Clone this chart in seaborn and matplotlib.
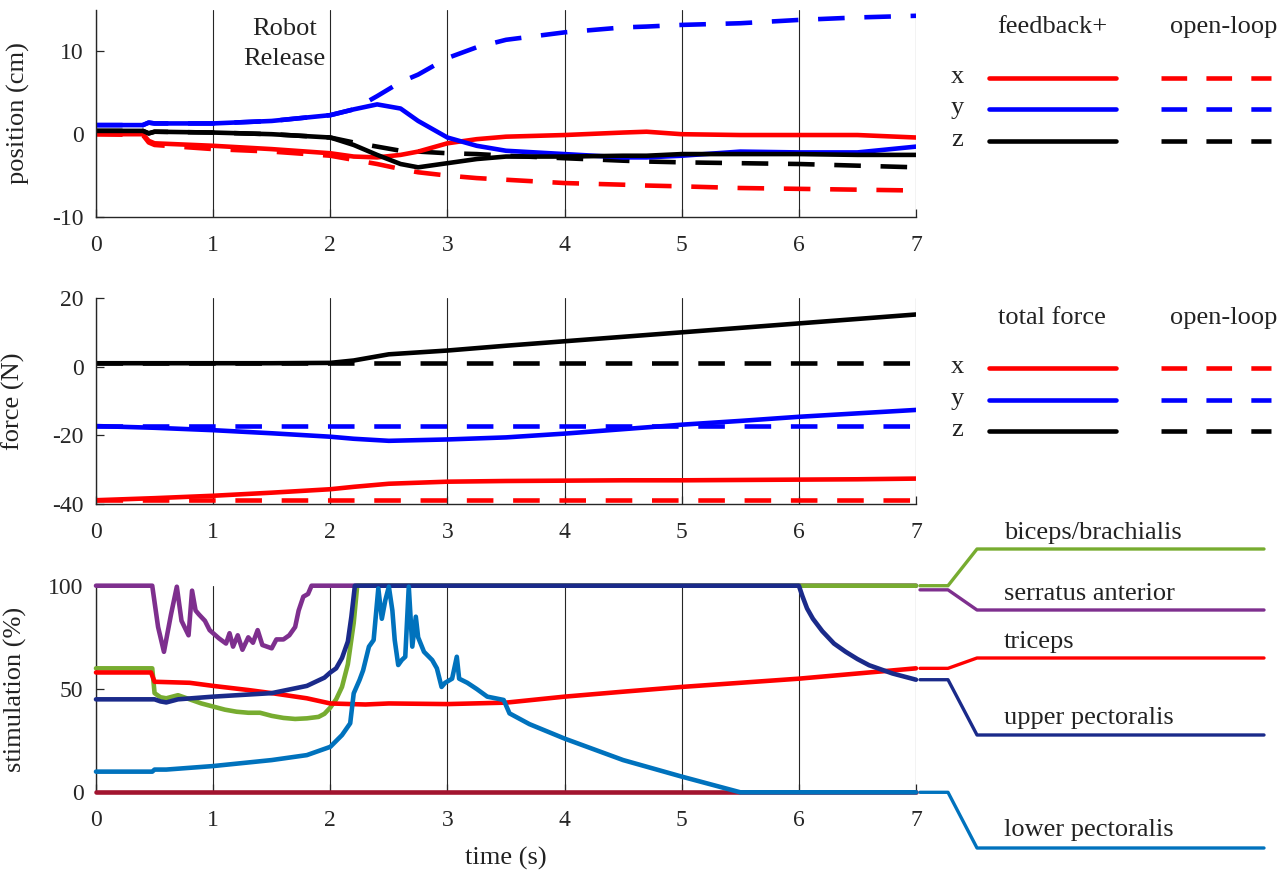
import numpy as np
import pandas as pd
import matplotlib
matplotlib.use('Agg')
import matplotlib.pyplot as plt
import seaborn as sns
from matplotlib.lines import Line2D

sns.set_style('ticks')
plt.rcParams['font.family'] = ['Liberation Serif', 'DejaVu Serif']
plt.rcParams['axes.unicode_minus'] = False
plt.rcParams['text.color'] = '#222222'
plt.rcParams['axes.labelcolor'] = '#222222'
plt.rcParams['xtick.color'] = '#262626'
plt.rcParams['ytick.color'] = '#262626'

RED = '#ff0000'
BLUE = '#0000ff'
BLACK = '#000000'
GREEN = '#77ac30'
PURPLE = '#7e2f8e'
NAVY = '#1a2a8a'
LBLUE = '#0072bd'
MAROON = '#a2142f'

# ---- position panel (cm) ----
t_pos = [0, 0.4, 0.45, 0.5, 1, 1.5, 2, 2.2, 2.4, 2.6, 2.75, 3, 3.25, 3.5,
         4, 4.5, 4.7, 5, 5.5, 6, 6.5, 7]
pos_x_fb = [0, 0, -0.8, -1.1, -1.4, -1.8, -2.3, -2.7, -2.8, -2.5, -2.1, -1.1,
            -0.6, -0.3, -0.1, 0.2, 0.3, 0.0, -0.1, -0.1, -0.1, -0.4]
pos_x_ol = [0, -0.1, -1.0, -1.3, -1.8, -2.1, -2.6, -3.1, -3.6, -4.2, -4.6,
            -5.0, -5.3, -5.5, -5.9, -6.1, -6.2, -6.3, -6.5, -6.6, -6.7, -6.8]
pos_y_fb = [1.1, 1.1, 1.4, 1.3, 1.3, 1.6, 2.3, 3.0, 3.6, 3.1, 1.6, -0.4,
            -1.4, -2.0, -2.4, -2.8, -2.8, -2.6, -2.1, -2.2, -2.2, -1.5]
pos_y_ol = [1.1, 1.1, 1.4, 1.3, 1.3, 1.6, 2.3, 3.0, 4.6, 6.3, 7.2, 9.2,
            10.5, 11.4, 12.3, 12.9, 13.0, 13.2, 13.4, 13.8, 14.1, 14.3]
pos_z_fb = [0.4, 0.4, 0.1, 0.3, 0.2, 0.0, -0.4, -1.3, -2.5, -3.6, -4.0, -3.5,
            -3.0, -2.7, -2.7, -2.6, -2.6, -2.4, -2.4, -2.4, -2.5, -2.5]
pos_z_ol = [0.4, 0.4, 0.1, 0.3, 0.2, 0.0, -0.4, -1.0, -1.5, -2.0, -2.1, -2.3,
            -2.4, -2.6, -2.9, -3.2, -3.3, -3.4, -3.5, -3.6, -3.8, -4.0]

# ---- force panel (N) ----
t_force = [0, 0.5, 1, 1.5, 2, 2.2, 2.5, 3, 3.5, 4, 4.5, 5, 5.5, 6, 6.5, 7]
force_x_fb = [-38.9, -38.3, -37.6, -36.7, -35.7, -35.0, -34.1, -33.5, -33.3,
              -33.2, -33.1, -33.1, -33.0, -32.9, -32.8, -32.6]
force_y_fb = [-17.3, -17.8, -18.5, -19.4, -20.4, -21.0, -21.6, -21.2, -20.6,
              -19.5, -18.2, -16.9, -15.8, -14.6, -13.6, -12.6]
force_z_fb = [1.0, 1.0, 1.0, 1.0, 1.1, 1.8, 3.6, 4.7, 6.1, 7.4, 8.7, 10.0,
              11.3, 12.6, 13.9, 15.2]
t_force_ol = [0, 7]
force_x_ol = [-38.9, -38.9]
force_y_ol = [-17.3, -17.3]
force_z_ol = [1.0, 1.0]

# ---- stimulation panel (%) ----
t_serr = [0, 0.48, 0.53, 0.58, 0.64, 0.69, 0.73, 0.79, 0.82, 0.85, 0.88, 0.93,
          0.97, 1.05, 1.11, 1.14, 1.17, 1.21, 1.25, 1.30, 1.34, 1.38, 1.42,
          1.50, 1.54, 1.60, 1.65, 1.70, 1.73, 1.77, 1.81, 1.84, 7]
serratus = [100, 100, 80, 68, 86, 99.5, 83, 76, 97.6, 88, 86, 83, 78.5, 74.5,
            72, 77, 70.5, 76, 69, 75, 72.4, 78.5, 71.3, 69.7, 74, 74, 76, 80,
            88, 94.7, 96, 100, 100]
t_bic = [0, 0.48, 0.5, 0.55, 0.6, 0.7, 0.8, 0.9, 1.0, 1.1, 1.2, 1.3, 1.4, 1.5,
         1.6, 1.7, 1.8, 1.9, 1.95, 2.0, 2.05, 2.1, 2.15, 2.2, 2.23, 7]
biceps = [60, 60, 48, 46, 45.5, 47, 45, 43, 41.5, 40, 39, 38.5, 38.5, 37, 36,
          35.5, 35.8, 36.5, 38, 41, 45, 51, 62, 82, 100, 100]
t_tri = [0, 0.47, 0.5, 0.8, 1.0, 1.3, 1.5, 1.8, 2.0, 2.3, 2.5, 3.0, 3.5, 4.0,
         4.5, 5.0, 5.5, 6.0, 6.5, 7.0]
triceps = [58, 58, 53.5, 53, 51.5, 49.5, 48, 45.5, 43, 42.5, 43, 42.7, 43.4,
           46.3, 48.7, 51, 53, 55, 57.5, 60]
t_upec = [0, 0.5, 0.55, 0.6, 0.7, 1.0, 1.5, 1.8, 1.95, 2.0, 2.05, 2.1, 2.15,
          2.18, 2.21, 6.0, 6.03, 6.07, 6.12, 6.2, 6.3, 6.4, 6.5, 6.6, 6.7,
          6.8, 6.9, 7.0]
upper_pec = [45, 45, 44, 43.5, 45, 46.3, 48, 51.5, 55.5, 58, 60, 65, 73, 85,
             100, 100, 95, 89, 84, 78, 72, 68, 64.5, 61.5, 59.5, 57.5, 56, 54.5]
t_lpec = [0, 0.48, 0.5, 0.6, 1.0, 1.5, 1.8, 2.0, 2.1, 2.17, 2.2, 2.25, 2.28,
          2.33, 2.37, 2.41, 2.44, 2.47, 2.5, 2.53, 2.55, 2.58, 2.61, 2.64,
          2.67, 2.70, 2.73, 2.75, 2.80, 2.87, 2.91, 2.95, 2.98, 3.04, 3.08,
          3.10, 3.17, 3.25, 3.34, 3.41, 3.48, 3.53, 3.7, 4.0, 4.5, 5.0, 5.5, 7.0]
lower_pec = [10, 10, 11, 11, 12.7, 15.6, 18, 22, 27.7, 33.4, 47.9, 54.4, 59,
             70.5, 73.7, 98.7, 84, 93, 99.5, 88, 73.7, 61.6, 64, 65.6, 99.5,
             70.5, 85, 75, 68, 64, 60, 51, 53, 55, 65.6, 55, 53, 50, 46.3,
             45.5, 44.7, 38.2, 33, 26, 15.6, 7.6, 0, 0]
t_other = [0, 7]
other = [0, 0]

muscle_names = ['biceps/brachialis', 'serratus anterior', 'triceps',
                'upper pectoralis', 'lower pectoralis']
muscle_colors = [GREEN, PURPLE, RED, NAVY, LBLUE]
muscle_end = [100, 98, 60, 54.5, 0]

W, H = 1287, 871
fig = plt.figure(figsize=(W / 100, H / 100), dpi=100)


def fx(px):
    return px / W


def fy(py):
    return 1 - py / H


def make_ax(top, bottom):
    ax = fig.add_axes([fx(96), fy(bottom), fx(916) - fx(96), fy(top) - fy(bottom)])
    ax.set_xlim(0, 7)
    ax.set_xticks(range(8))
    for s in ['top', 'right']:
        ax.spines[s].set_visible(False)
    for s in ['left', 'bottom']:
        ax.spines[s].set_color('#262626')
        ax.spines[s].set_linewidth(1.0)
    ax.tick_params(direction='in', length=6, width=0.9, labelsize=17)
    ax.tick_params(axis='x', pad=13)
    ax.tick_params(axis='y', pad=9)
    ax.grid(axis='x', color='#262626', linewidth=0.8)
    ax.set_axisbelow(True)
    return ax


def draw(ax, t, v, color, dashed=False, lw=3.3, clip=True):
    sns.lineplot(x=t, y=v, ax=ax, color=color, linewidth=lw, sort=False,
                 estimator=None)
    ln = ax.lines[-1]
    ln.set_clip_on(clip)
    if not clip:
        ln.set_zorder(3)
    if dashed:
        ln.set_dashes((5.8, 4.3))


ax1 = make_ax(10, 217)
ax2 = make_ax(298, 504)
ax3 = make_ax(585.7, 792.3)

# position
ax1.set_ylim(-10, 15)
ax1.set_yticks([-10, 0, 10])
draw(ax1, t_pos, pos_x_ol, RED, dashed=True)
draw(ax1, t_pos, pos_y_ol, BLUE, dashed=True)
draw(ax1, t_pos, pos_z_ol, BLACK, dashed=True)
draw(ax1, t_pos, pos_x_fb, RED)
draw(ax1, t_pos, pos_y_fb, BLUE)
draw(ax1, t_pos, pos_z_fb, BLACK)
ax1.set_ylabel('position (cm)', fontsize=19)
ax1.yaxis.set_label_coords((30 - 96) / 820, 0.5)
ax1.text(1.61, 10.9, 'Robot\nRelease', ha='center', va='center', fontsize=19,
         linespacing=1.45)

# force
ax2.set_ylim(-40, 20)
ax2.set_yticks([-40, -20, 0, 20])
draw(ax2, t_force_ol, force_x_ol, RED, dashed=True)
draw(ax2, t_force_ol, force_y_ol, BLUE, dashed=True)
draw(ax2, t_force_ol, force_z_ol, BLACK, dashed=True)
draw(ax2, t_force, force_x_fb, RED)
draw(ax2, t_force, force_y_fb, BLUE)
draw(ax2, t_force, force_z_fb, BLACK)
ax2.set_ylabel('force (N)', fontsize=19)
ax2.yaxis.set_label_coords((25 - 96) / 820, 0.5)

# stimulation
ax3.set_ylim(0, 100)
ax3.set_yticks([0, 50, 100])
draw(ax3, t_serr, serratus, PURPLE, clip=False)
draw(ax3, t_bic, biceps, GREEN, clip=False)
draw(ax3, t_tri, triceps, RED, clip=False)
draw(ax3, t_upec, upper_pec, NAVY, clip=False)
draw(ax3, t_other, other, MAROON, clip=False)
draw(ax3, t_lpec, lower_pec, LBLUE, clip=False)
ax3.set_ylabel('stimulation (%)', fontsize=19)
ax3.yaxis.set_label_coords((27 - 96) / 820, 0.5)
ax3.set_xlabel('time (s)', fontsize=19, labelpad=11)

# legends for position / force
def xyz_legend(title_left, title_y, rows_y):
    fig.text(fx(1052), fy(title_y), title_left, ha='center', va='center', fontsize=19)
    fig.text(fx(1224), fy(title_y), 'open-loop', ha='center', va='center', fontsize=19)
    for lab, col, ry in zip(['x', 'y', 'z'], [RED, BLUE, BLACK], rows_y):
        fig.text(fx(957), fy(ry - 1), lab, ha='center', va='center', fontsize=19)
        fig.add_artist(Line2D([fx(989), fx(1116)], [fy(ry), fy(ry)], color=col,
                              lw=3.3, transform=fig.transFigure))
        fig.add_artist(Line2D([fx(1161), fx(1271)], [fy(ry), fy(ry)], color=col,
                              lw=3.3, dashes=(5.6, 4.2), transform=fig.transFigure))


xyz_legend('feedback+', 27, [78, 109, 141])
xyz_legend('total force', 318, [368, 400, 431])

# muscle legend with connectors
label_y = [533, 594, 642, 718, 830]
line_y = [549, 610, 658, 735, 848]
fig.canvas.draw()
to_fig = ax3.transData + fig.transFigure.inverted()
for name, col, yend, ly, lny in zip(muscle_names, muscle_colors, muscle_end,
                                    label_y, line_y):
    y0 = to_fig.transform((7, yend))[1]
    fig.add_artist(Line2D([fx(920), fx(948), fx(977), fx(1264)],
                          [y0, y0, fy(lny), fy(lny)], color=col, lw=2.4,
                          transform=fig.transFigure))
    fig.text(fx(1004), fy(ly), name, ha='left', va='center', fontsize=19)

fig.savefig('out.png', dpi=100)
